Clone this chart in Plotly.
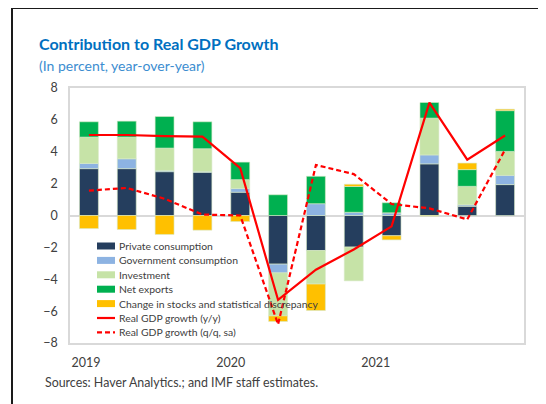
import plotly.graph_objects as go

# ---------------- data ----------------
quarters = ["2019Q1", "2019Q2", "2019Q3", "2019Q4", "2020Q1", "2020Q2",
            "2020Q3", "2020Q4", "2021Q1", "2021Q2", "2021Q3", "2021Q4"]
private_consumption = [2.94, 2.94, 2.75, 2.71, 1.46, -3.05, -2.20, -1.98, -1.27, 3.24, 0.58, 1.94]
government_consumption = [0.33, 0.62, 0.08, 0.06, 0.23, -0.55, 0.74, 0.20, 0.17, 0.56, 0.09, 0.58]
investment = [1.65, 1.36, 1.40, 1.42, 0.56, -2.70, -2.10, -2.12, 0.00, 2.31, 1.16, 1.50]
net_exports = [0.96, 1.00, 1.98, 1.69, 1.10, 1.30, 1.72, 1.62, 0.63, 0.98, 1.05, 2.56]
stocks_discrepancy = [-0.82, -0.88, -1.19, -0.92, -0.38, -0.35, -1.66, 0.14, -0.26, -0.04, 0.41, 0.09]
gdp_yoy = [5.05, 5.05, 4.98, 4.95, 2.97, -5.30, -3.40, -2.13, -0.68, 7.08, 3.50, 5.02]
gdp_qoq = [1.56, 1.73, 1.05, 0.06, 0.00, -6.83, 3.17, 2.60, 0.72, 0.45, -0.25, 4.13]

year_labels = ["2019", "2020", "2021"]
y_ticks = [-8, -6, -4, -2, 0, 2, 4, 6, 8]

bar_series = [
    ("Private consumption", private_consumption, "#253E5E"),
    ("Government consumption", government_consumption, "#8DB3E2"),
    ("Investment", investment, "#C6E3A7"),
    ("Net exports", net_exports, "#00B050"),
    ("Change in stocks and statistical discrepancy", stocks_discrepancy, "#FFC000"),
]
line_series = [
    ("Real GDP growth (y/y)", gdp_yoy, "solid"),
    ("Real GDP growth (q/q, sa)", gdp_qoq, "5px,3px"),
]

# ---------------- layout geometry ----------------
# page has an 8px body margin, so the figure is made 8px smaller and all
# positions below are given in window pixels
OFF = 8
W, H = 546, 404
ML, MR, MT, MB = 70, 22, 88, 61
PW, PH = W - ML - MR, H - MT - MB


def px(x):
    return (x - ML) / PW


def py(y):
    return (H - MB - y) / PH


xpos = list(range(len(quarters)))
fig = go.Figure()

for name, vals, col in bar_series:
    fig.add_trace(go.Bar(
        x=xpos, y=vals, name=name, width=0.5,
        marker=dict(color=col, line=dict(color="#D6E9C6", width=0.6)),
        showlegend=False,
    ))

for name, vals, dash in line_series:
    fig.add_trace(go.Scatter(
        x=xpos, y=vals, name=name, mode="lines",
        line=dict(color="#FF0000", width=2.2, dash=dash),
        showlegend=False,
    ))

# year tick positions (labels sit slightly left of the first quarter of each year)
year_pos = [i * 4 - 0.08 - i * 0.17 for i in range(len(year_labels))]

fig.update_layout(
    width=W - OFF, height=H - OFF,
    margin=dict(l=ML - OFF, r=MR, t=MT - OFF, b=MB),
    barmode="relative",
    paper_bgcolor="white",
    plot_bgcolor="white",
    font=dict(family="Lato", color="#404040", size=12),
    xaxis=dict(
        range=[-0.5, len(quarters) - 0.5],
        tickmode="array", tickvals=year_pos, ticktext=year_labels,
        showgrid=False, zeroline=False,
        showline=True, mirror=True, linecolor="#D9D9D9", linewidth=1.5,
        ticks="", ticklabelstandoff=7,
        tickfont=dict(size=12.5, color="#404040"),
    ),
    yaxis=dict(
        range=[-8, 8],
        tickmode="array", tickvals=y_ticks,
        showgrid=False,
        zeroline=True, zerolinecolor="#D9D9D9", zerolinewidth=2,
        showline=True, mirror=True, linecolor="#D9D9D9", linewidth=1.5,
        ticks="", ticklabelstandoff=8,
        tickfont=dict(size=12.5, color="#404040"),
    ),
)

# outer black frame (left and top edges)
fig.add_shape(type="path", xref="paper", yref="paper",
              path=f"M {px(12)} {py(H + 5)} L {px(12)} {py(8)} L {px(W + 5)} {py(8)}",
              line=dict(color="#1a1a1a", width=2))

# titles and source
fig.add_annotation(text="<b>Contribution to Real GDP Growth</b>", xref="paper", yref="paper",
                   x=px(37), y=py(44), xanchor="left", yanchor="middle", showarrow=False,
                   font=dict(family="Lato", size=16, color="#0070C0"))
fig.add_annotation(text="(In percent, year-over-year)", xref="paper", yref="paper",
                   x=px(37), y=py(65), xanchor="left", yanchor="middle", showarrow=False,
                   font=dict(family="Lato", size=14, color="#3C8DD0"))
fig.add_annotation(text="Sources: Haver Analytics.; and IMF staff estimates.", xref="paper", yref="paper",
                   x=px(43), y=py(382), xanchor="left", yanchor="middle", showarrow=False,
                   font=dict(family="Lato", size=12.4, color="#404040"))

# legend (drawn manually for compact spacing)
leg_x0, leg_x1, leg_tx = 97, 115, 117
leg_y0, leg_dy = 246, 14.4
k = 0
for name, _, col in bar_series:
    yc = leg_y0 + k * leg_dy
    fig.add_shape(type="rect", xref="paper", yref="paper",
                  x0=px(leg_x0), x1=px(leg_x1), y0=py(yc - 3.5), y1=py(yc + 3.5),
                  fillcolor=col, line=dict(width=0))
    fig.add_annotation(text=name, xref="paper", yref="paper", x=px(leg_tx), y=py(yc),
                       xanchor="left", yanchor="middle", showarrow=False,
                       font=dict(family="Lato", size=10.4, color="#404040"))
    k += 1
for name, _, dash in line_series:
    yc = leg_y0 + k * leg_dy
    fig.add_shape(type="line", xref="paper", yref="paper",
                  x0=px(leg_x0), x1=px(leg_x1), y0=py(yc), y1=py(yc),
                  line=dict(color="#FF0000", width=2.2, dash=dash))
    fig.add_annotation(text=name, xref="paper", yref="paper", x=px(leg_tx), y=py(yc),
                       xanchor="left", yanchor="middle", showarrow=False,
                       font=dict(family="Lato", size=10.4, color="#404040"))
    k += 1

fig.write_html("out.html")
